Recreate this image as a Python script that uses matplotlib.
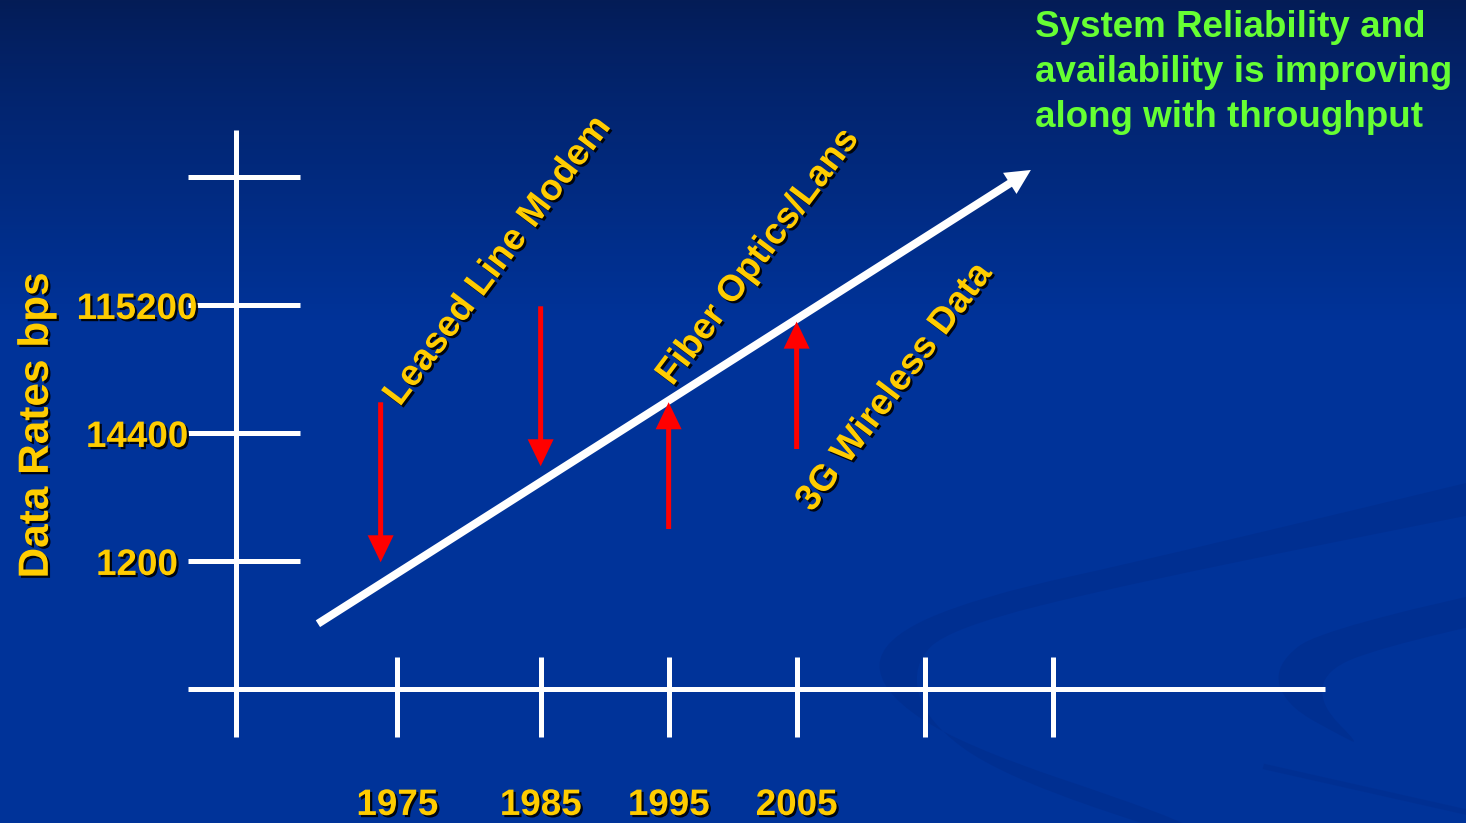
import numpy as np
import matplotlib
matplotlib.use("Agg")
import matplotlib.pyplot as plt
import matplotlib.patheffects as pe
from matplotlib.path import Path
from matplotlib.patches import PathPatch

# chart units: one grid step = 128 px, origin where the two axes cross
years = ["1975", "1985", "1995", "2005"]
year_pos = [1.26, 2.38, 3.38, 4.38, 5.38, 6.38]   # last two ticks carry no label
rates = ["1200", "14400", "115200"]
rate_levels = [1, 2, 3, 4]                          # top tick carries no label
techs = ["Leased Line Modem", "Fiber Optics/Lans", "3G Wireless Data"]
tech_x = [1.28, 3.41, 4.50]
tech_y = [2.20, 2.36, 1.375]
arrow_x = [1.13, 2.38, 3.38, 4.38]
arrow_from = [2.24, 2.99, 1.25, 1.875]
arrow_to = [0.99, 1.74, 2.24, 2.87]
trend_start = (0.64, 0.51)
trend_end = (6.21, 4.055)
note_lines = ["System Reliability and", "availability is improving", "along with throughput"]

W, H, G = 1466, 823, 128.0
X0, Y0 = 236, 689
xmin, xmax = -X0 / G, (W - X0) / G
ymin, ymax = -(H - Y0) / G, Y0 / G

YELLOW = "#FFCC00"
GREEN = "#66FF33"
FONT = "Liberation Sans"
FS = 26.5

fig = plt.figure(figsize=(W / 100, H / 100), dpi=100)
ax = fig.add_axes([0, 0, 1, 1])
ax.set_xlim(xmin, xmax)
ax.set_ylim(ymin, ymax)
ax.axis("off")

# slide background: dark navy at the top fading into royal blue
top = np.array([4, 28, 86]) / 255
bot = np.array([0, 51, 153]) / 255
t = np.clip(np.arange(H) / 320.0, 0, 1) ** 0.85
grad = (top[None, :] + (bot - top)[None, :] * t[:, None])[:, None, :]
ax.imshow(grad, extent=(xmin, xmax, ymin, ymax), aspect="auto", zorder=0, origin="upper")


def px(x, y):
    return ((x - X0) / G, (Y0 - y) / G)


def smooth_shape(pts):
    # closed outline through midpoints, the points act as quadratic controls
    verts = [px(*pts[0])]
    codes = [Path.MOVETO]
    for a, b in zip(pts[1:-1], pts[2:]):
        mid = ((a[0] + b[0]) / 2, (a[1] + b[1]) / 2)
        verts += [px(*a), px(*mid)]
        codes += [Path.CURVE3, Path.CURVE3]
    verts.append(px(*pts[-1]))
    codes.append(Path.LINETO)
    verts.append(verts[0])
    codes.append(Path.CLOSEPOLY)
    return Path(verts, codes)


# faint swooshes in the lower right
band1 = [(1520, 470), (1169, 555), (976, 597), (880, 640), (879, 690), (960, 745),
         (1169, 815), (1215, 840), (1190, 840), (1000, 775), (925, 720),
         (912, 665), (950, 628), (1131, 583), (1520, 505)]
band2 = [(1520, 585), (1324, 627), (1274, 665), (1285, 705), (1343, 737), (1360, 745),
         (1320, 705), (1325, 670), (1380, 648), (1520, 615)]
for shape in (band1, band2):
    ax.add_patch(PathPatch(smooth_shape(shape), facecolor=(0, 0.15, 0.5), edgecolor="none",
                           alpha=0.3, zorder=1))
ax.plot(*zip(px(1266, 767), px(1466, 812)), color=(0, 0.15, 0.5), lw=4, alpha=0.25, zorder=1)

# axes cross with tick marks
axis_kw = dict(color="white", lw=3.6, solid_capstyle="butt", zorder=3)
ax.plot([-0.375, 8.508], [0, 0], **axis_kw)
ax.plot([0, 0], [-0.375, 4.367], **axis_kw)
for lv in rate_levels:
    ax.plot([-0.375, 0.5], [lv, lv], **axis_kw)
for xp in year_pos:
    ax.plot([xp, xp], [-0.375, 0.25], **axis_kw)

shadow = [pe.withSimplePatchShadow(offset=(1.6, -1.6), shadow_rgbFace="black", alpha=0.9)]
txt_kw = dict(color=YELLOW, fontweight="bold", family=FONT, path_effects=shadow, zorder=6)

for lab, lv in zip(rates, rate_levels):
    ax.text(-0.773, lv - 0.109, lab, ha="center", va="baseline", fontsize=FS, **txt_kw)
for lab, xp in zip(years, year_pos):
    ax.text(xp, -0.984, lab, ha="center", va="baseline", fontsize=FS, **txt_kw)
ax.text(-1.47, 2.0625, "Data Rates bps", rotation=90, rotation_mode="anchor",
        ha="center", va="baseline", fontsize=30.5, **txt_kw)

for lab, tx, ty in zip(techs, tech_x, tech_y):
    ax.text(tx, ty, lab, rotation=53, rotation_mode="anchor", ha="left", va="baseline",
            fontsize=FS, **txt_kw)

# throughput trend
ax.arrow(trend_start[0], trend_start[1], trend_end[0] - trend_start[0], trend_end[1] - trend_start[1],
         width=8 / G, head_width=25 / G, head_length=25 / G, length_includes_head=True,
         color="white", lw=0, zorder=4)

# red markers pointing at the trend line
for xa, y1, y2 in zip(arrow_x, arrow_from, arrow_to):
    ax.arrow(xa, y1, 0, y2 - y1, width=5 / G, head_width=26 / G, head_length=27 / G,
             length_includes_head=True, color="#FF0000", lw=0, zorder=5)

for i, line in enumerate(note_lines):
    ax.text(6.242, 5.094 - i * 45 / G, line, ha="left", va="baseline", color=GREEN,
            fontsize=FS, fontweight="bold", family=FONT, zorder=6)

fig.savefig("out.png", dpi=100)
